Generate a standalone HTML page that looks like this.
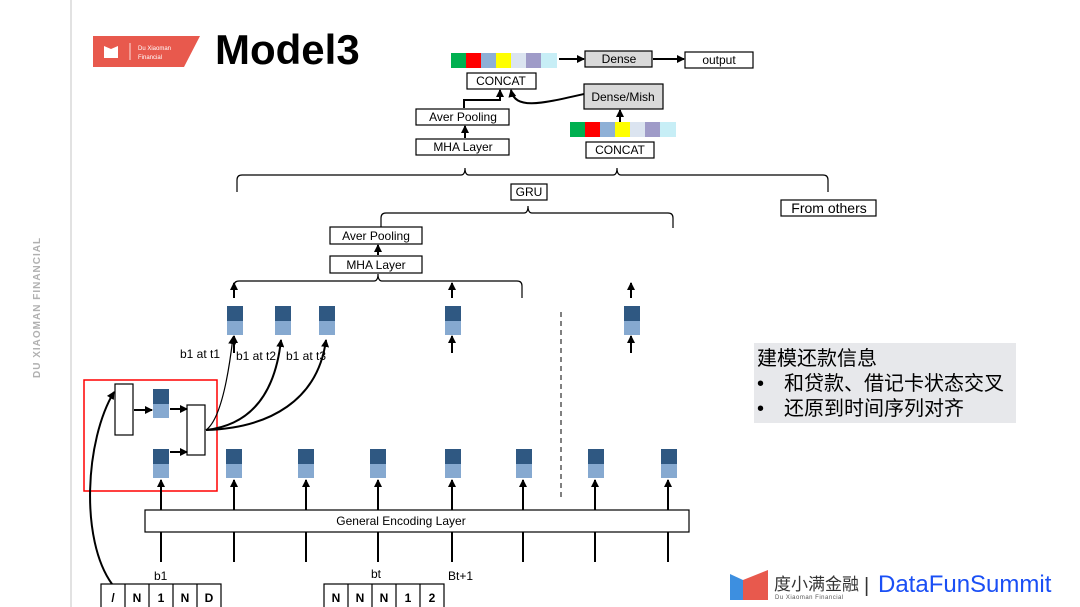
<!DOCTYPE html>
<html><head><meta charset="utf-8"><style>
body{margin:0;background:#fff;}
svg{display:block;font-family:"Liberation Sans","Noto Sans CJK SC",sans-serif;}
</style></head><body>
<svg width="1080" height="607" viewBox="0 0 1080 607" xmlns="http://www.w3.org/2000/svg">
<defs>
<marker id="a" markerWidth="8" markerHeight="8" refX="7" refY="4" orient="auto" markerUnits="userSpaceOnUse"><path d="M0,0 L8,4 L0,8 z" fill="#000"/></marker>
<g id="tk"><rect x="0" y="0" width="16" height="15" fill="#2f5882"/><rect x="0" y="15" width="16" height="14" fill="#86a9d0"/></g>
</defs>
<line x1="71" y1="0" x2="71" y2="607" stroke="#d9d9d9" stroke-width="1.5"/>
<text transform="translate(40,378) rotate(-90)" font-size="10" font-weight="bold" fill="#b0b0b0" letter-spacing="1">DU XIAOMAN  FINANCIAL</text>
<polygon points="93,36 200,36 184,67 93,67" fill="#e8594d"/>
<path d="M104,46 L111,49 L118,46 L118,58 L104,58z" fill="#fff"/>
<line x1="130" y1="43" x2="130" y2="60" stroke="#fff" stroke-width="0.8"/>
<text x="138" y="50" font-size="6" fill="#fff">Du Xiaoman</text>
<text x="138" y="59" font-size="6" fill="#fff">Financial</text>
<text x="215" y="64" font-size="42" font-weight="bold" fill="#000">Model3</text>

<g stroke="#000" stroke-width="1.2" fill="#fff" font-size="12">
<rect x="451" y="53" width="15" height="15" fill="#00b050" stroke="none"/>
<rect x="466" y="53" width="15" height="15" fill="#ff0000" stroke="none"/>
<rect x="481" y="53" width="15" height="15" fill="#8eb0d6" stroke="none"/>
<rect x="496" y="53" width="15" height="15" fill="#ffff00" stroke="none"/>
<rect x="511" y="53" width="15" height="15" fill="#dbe4f0" stroke="none"/>
<rect x="526" y="53" width="15" height="15" fill="#9f9bc8" stroke="none"/>
<rect x="541" y="53" width="16" height="15" fill="#c7eef6" stroke="none"/>
<line x1="559" y1="59" x2="584" y2="59" stroke-width="2" marker-end="url(#a)"/>
<rect x="585" y="51" width="67" height="16" fill="#d9d9d9"/>
<line x1="653" y1="59" x2="684" y2="59" stroke-width="2" marker-end="url(#a)"/>
<rect x="685" y="52" width="68" height="16"/>
<rect x="467" y="73" width="69" height="16"/>
<rect x="416" y="109" width="93" height="16"/>
<rect x="416" y="139" width="93" height="16"/>
<line x1="465" y1="138" x2="465" y2="126" stroke-width="2" marker-end="url(#a)"/>
<path d="M464,108 L464,100 L500,100 L500,90" fill="none" stroke-width="2" marker-end="url(#a)"/>
<path d="M584,94 C540,104 515,110 511,90" fill="none" stroke-width="2" marker-end="url(#a)"/>
<rect x="584" y="84" width="79" height="25" fill="#d9d9d9"/>
<line x1="620" y1="122" x2="620" y2="110" stroke-width="2" marker-end="url(#a)"/>
<rect x="570" y="122" width="15" height="15" fill="#00b050" stroke="none"/>
<rect x="585" y="122" width="15" height="15" fill="#ff0000" stroke="none"/>
<rect x="600" y="122" width="15" height="15" fill="#8eb0d6" stroke="none"/>
<rect x="615" y="122" width="15" height="15" fill="#ffff00" stroke="none"/>
<rect x="630" y="122" width="15" height="15" fill="#dbe4f0" stroke="none"/>
<rect x="645" y="122" width="15" height="15" fill="#9f9bc8" stroke="none"/>
<rect x="660" y="122" width="16" height="15" fill="#c7eef6" stroke="none"/>
<rect x="586" y="142" width="68" height="16"/>
<path d="M237,192 L237,180 Q237,175 242,175 L461,175 Q465,175 465,168 Q465,175 469,175 L613,175 Q617,175 617,168 Q617,175 621,175 L823,175 Q828,175 828,180 L828,192" fill="none"/>
<rect x="511" y="184" width="36" height="16"/>
<rect x="781" y="200" width="95" height="16"/>
<path d="M381,228 L381,218 Q381,213 386,213 L524,213 Q528,213 528,206 Q528,213 532,213 L668,213 Q673,213 673,218 L673,228" fill="none"/>
<rect x="330" y="227" width="92" height="17"/>
<rect x="330" y="256" width="92" height="17"/>
<line x1="378" y1="255" x2="378" y2="245" stroke-width="2" marker-end="url(#a)"/>
<path d="M234,298 L234,286 Q234,281 239,281 L374,281 Q378,281 378,274 Q378,281 382,281 L517,281 Q522,281 522,286 L522,298" fill="none"/>
<g stroke-width="2">
<line x1="234" y1="298" x2="234" y2="283" marker-end="url(#a)"/>
<line x1="452" y1="298" x2="452" y2="283" marker-end="url(#a)"/>
<line x1="631" y1="298" x2="631" y2="283" marker-end="url(#a)"/>
<line x1="234" y1="353" x2="234" y2="336" marker-end="url(#a)"/>
<line x1="452" y1="353" x2="452" y2="336" marker-end="url(#a)"/>
<line x1="631" y1="353" x2="631" y2="336" marker-end="url(#a)"/>
</g>
</g>
<g font-size="12" text-anchor="middle" fill="#000">
<text x="619" y="63">Dense</text>
<text x="719" y="64">output</text>
<text x="501" y="85">CONCAT</text>
<text x="463" y="121">Aver Pooling</text>
<text x="463" y="151">MHA Layer</text>
<text x="623" y="101">Dense/Mish</text>
<text x="620" y="154">CONCAT</text>
<text x="529" y="196">GRU</text>
<text x="829" y="213" font-size="14">From others</text>
<text x="376" y="240">Aver Pooling</text>
<text x="376" y="269">MHA Layer</text>
</g>
<use href="#tk" x="227" y="306"/><use href="#tk" x="275" y="306"/><use href="#tk" x="319" y="306"/>
<use href="#tk" x="445" y="306"/><use href="#tk" x="624" y="306"/>
<line x1="561" y1="312" x2="561" y2="497" stroke="#000" stroke-dasharray="5,4"/>
<g font-size="12" fill="#000"><text x="180" y="358">b1 at t1</text><text x="236" y="360">b1 at t2</text><text x="286" y="360">b1 at t3</text></g>
<rect x="84" y="380" width="133" height="111" fill="none" stroke="#ff0000" stroke-width="1.5"/>
<g stroke="#000" fill="#fff" stroke-width="1.2">
<rect x="115" y="384" width="18" height="51"/>
<rect x="187" y="405" width="18" height="50"/>
</g>
<use href="#tk" x="153" y="389"/><use href="#tk" x="153" y="449"/>
<g stroke="#000" stroke-width="2" fill="none">
<line x1="134" y1="410" x2="152" y2="410" marker-end="url(#a)"/>
<line x1="170" y1="409" x2="187" y2="409" marker-end="url(#a)"/>
<line x1="170" y1="452" x2="187" y2="452" marker-end="url(#a)"/>
<path d="M206,430 C220,420 228,380 233,337" stroke-width="1.2" marker-end="url(#a)"/>
<path d="M206,430 C250,425 275,395 281,340" marker-end="url(#a)"/>
<path d="M206,430 C270,428 318,400 326,340" marker-end="url(#a)"/>
<path d="M112,584 C80,540 85,440 114,392" marker-end="url(#a)"/>
</g>
<use href="#tk" x="226" y="449"/><use href="#tk" x="298" y="449"/><use href="#tk" x="370" y="449"/>
<use href="#tk" x="445" y="449"/><use href="#tk" x="516" y="449"/><use href="#tk" x="588" y="449"/><use href="#tk" x="661" y="449"/>
<g stroke="#000" stroke-width="2">
<line x1="161" y1="510" x2="161" y2="480" marker-end="url(#a)"/>
<line x1="234" y1="510" x2="234" y2="480" marker-end="url(#a)"/>
<line x1="306" y1="510" x2="306" y2="480" marker-end="url(#a)"/>
<line x1="378" y1="510" x2="378" y2="480" marker-end="url(#a)"/>
<line x1="452" y1="510" x2="452" y2="480" marker-end="url(#a)"/>
<line x1="523" y1="510" x2="523" y2="480" marker-end="url(#a)"/>
<line x1="595" y1="510" x2="595" y2="480" marker-end="url(#a)"/>
<line x1="668" y1="510" x2="668" y2="480" marker-end="url(#a)"/>
<line x1="161" y1="532" x2="161" y2="562"/><line x1="234" y1="532" x2="234" y2="562"/>
<line x1="306" y1="532" x2="306" y2="562"/><line x1="378" y1="532" x2="378" y2="562"/>
<line x1="452" y1="532" x2="452" y2="562"/><line x1="523" y1="532" x2="523" y2="562"/>
<line x1="595" y1="532" x2="595" y2="562"/><line x1="668" y1="532" x2="668" y2="562"/>
</g>
<rect x="145" y="510" width="544" height="22" fill="#fff" stroke="#000" stroke-width="1.2"/>
<text x="401" y="525" font-size="12" text-anchor="middle">General Encoding Layer</text>
<g font-size="12"><text x="154" y="580">b1</text><text x="371" y="578">bt</text><text x="448" y="580">Bt+1</text></g>
<g stroke="#000" stroke-width="1.2" fill="#fff">
<rect x="101" y="584" width="120" height="24"/>
<line x1="125" y1="584" x2="125" y2="607"/><line x1="149" y1="584" x2="149" y2="607"/><line x1="173" y1="584" x2="173" y2="607"/><line x1="197" y1="584" x2="197" y2="607"/>
<rect x="324" y="584" width="120" height="24"/>
<line x1="348" y1="584" x2="348" y2="607"/><line x1="372" y1="584" x2="372" y2="607"/><line x1="396" y1="584" x2="396" y2="607"/><line x1="420" y1="584" x2="420" y2="607"/>
</g>
<g font-size="12" font-weight="bold" text-anchor="middle">
<text x="113" y="602">/</text><text x="137" y="602">N</text><text x="161" y="602">1</text><text x="185" y="602">N</text><text x="209" y="602">D</text>
<text x="336" y="602">N</text><text x="360" y="602">N</text><text x="384" y="602">N</text><text x="408" y="602">1</text><text x="432" y="602">2</text>
</g>
<rect x="754" y="343" width="262" height="80" fill="#e7e8eb"/>
<g font-size="20" fill="#000">
<text x="757" y="365">建模还款信息</text>
<text x="757" y="390">•</text><text x="784" y="390">和贷款、借记卡状态交叉</text>
<text x="757" y="415">•</text><text x="784" y="415">还原到时间序列对齐</text>
</g>
<path d="M730,574 L743,580 L743,600 L730,600z" fill="#3d8fe0"/>
<path d="M743,580 L768,570 L768,600 L743,600z" fill="#e8594d"/>
<text x="774" y="590" font-size="17" fill="#333">度小满金融</text>
<text x="775" y="599" font-size="6" fill="#555" letter-spacing="0.5">Du Xiaoman Financial</text>
<text x="864" y="592" font-size="20" fill="#333">|</text>
<text x="878" y="592" font-size="24" fill="#1a4ff5">DataFunSummit</text>
</svg>
</body></html>
